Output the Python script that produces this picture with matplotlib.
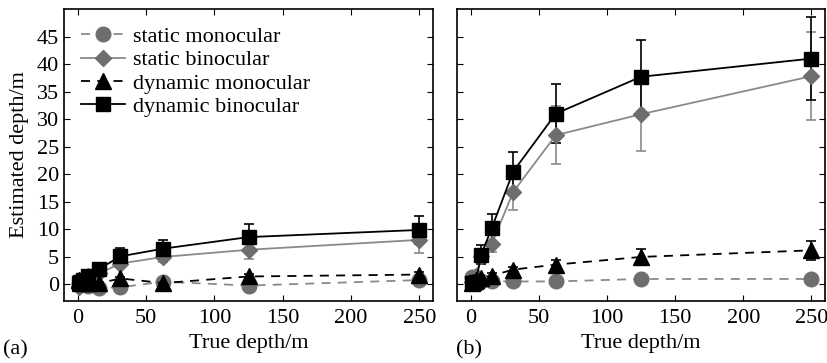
import numpy as np
import matplotlib.pyplot as plt

plt.rcParams['font.family'] = ['Liberation Serif', 'DejaVu Serif']
plt.rcParams['font.size'] = 16

true_depth = [0.98, 1.95, 3.9, 7.8, 15.6, 31.25, 62.5, 125, 250]

# panel (a)
a_static_mono = [0.1, -0.1, 0.0, -0.2, -0.6, -0.5, 0.5, -0.2, 0.8]
a_static_mono_err = [0.2, 0.2, 0.2, 0.3, 0.3, 0.3, 0.4, 0.4, 0.5]
a_static_bin = [-0.4, 0.2, 0.6, 1.6, 2.0, 3.8, 5.0, 6.3, 8.1]
a_static_bin_err = [0.3, 0.3, 0.4, 0.6, 0.6, 0.7, 0.9, 1.6, 2.4]
a_dyn_mono = [0.8, 0.3, 0.2, 0.3, 0.2, 1.1, 0.25, 1.45, 1.8]
a_dyn_mono_err = [0.2, 0.2, 0.2, 0.2, 0.3, 0.3, 0.3, 0.4, 0.5]
a_dyn_bin = [0.3, 0.5, 0.8, 1.6, 2.8, 5.1, 6.5, 8.6, 9.9]
a_dyn_bin_err = [0.3, 0.3, 0.4, 0.5, 0.7, 1.5, 1.6, 2.4, 2.5]

# panel (b)
b_static_mono = [1.3, 1.0, 0.8, 0.6, 0.6, 0.55, 0.55, 1.0, 1.0]
b_static_mono_err = [0.2, 0.2, 0.2, 0.2, 0.2, 0.2, 0.2, 0.3, 0.3]
b_static_bin = [0.5, 1.0, 1.5, 5.2, 7.4, 16.8, 27.1, 30.9, 37.8]
b_static_bin_err = [0.3, 0.4, 0.6, 1.0, 1.5, 3.2, 5.3, 6.7, 8.0]
b_dyn_mono = [0.3, 0.5, 0.8, 1.2, 1.6, 2.7, 3.6, 5.0, 6.2]
b_dyn_mono_err = [0.2, 0.2, 0.3, 0.3, 0.4, 0.5, 0.8, 1.5, 1.7]
b_dyn_bin = [0.2, 0.3, 0.5, 5.4, 10.3, 20.5, 31.0, 37.7, 41.0]
b_dyn_bin_err = [0.2, 0.3, 0.4, 1.7, 2.5, 3.5, 5.4, 6.7, 7.5]

labels = ['static monocular', 'static binocular', 'dynamic monocular', 'dynamic binocular']

gray = '#6e6e6e'
gray_line = '#8a8a8a'
styles = [
    dict(marker='o', ls='--', mfc=gray, mec=gray, color=gray_line, ms=10.5, dashes=(5, 4)),
    dict(marker='D', ls='-', mfc=gray, mec=gray, color=gray_line, ms=8.5),
    dict(marker='^', ls='--', mfc='black', mec='black', color='black', ms=11, dashes=(5, 4)),
    dict(marker='s', ls='-', mfc='black', mec='black', color='black', ms=9.5),
]

fig = plt.figure(figsize=(8.28, 3.63), dpi=100)
ax1 = fig.add_axes([0.0773, 0.1708, 0.4457, 0.8044])
ax2 = fig.add_axes([0.5519, 0.1708, 0.4445, 0.8044])

panels = [
    (ax1, [(a_static_mono, a_static_mono_err), (a_static_bin, a_static_bin_err),
           (a_dyn_mono, a_dyn_mono_err), (a_dyn_bin, a_dyn_bin_err)]),
    (ax2, [(b_static_mono, b_static_mono_err), (b_static_bin, b_static_bin_err),
           (b_dyn_mono, b_dyn_mono_err), (b_dyn_bin, b_dyn_bin_err)]),
]

for ax, series in panels:
    for (vals, errs), st, lab in zip(series, styles, labels):
        st = dict(st)
        dashes = st.pop('dashes', None)
        ecol = st['color']
        cont = ax.errorbar(true_depth, vals, yerr=errs, capsize=3.5, elinewidth=1.2,
                           capthick=1.2, ecolor=ecol, lw=1.3, label=lab, **st)
        if dashes:
            cont.lines[0].set_dashes(dashes)
    ax.set_xlim(-10, 260)
    ax.set_ylim(-3, 50)
    ax.set_xticks([0, 50, 100, 150, 200, 250])
    ax.set_yticks(range(0, 50, 5))
    ax.tick_params(direction='in', top=True, right=True, length=4, labelsize=16)
    ax.tick_params(axis='x', pad=6)
    ax.set_xlabel('True depth/m', fontsize=16, labelpad=4)
    for s in ax.spines.values():
        s.set_linewidth(1.2)

ax2.tick_params(labelleft=False)
ax1.set_ylabel('Estimated depth/m', fontsize=16, labelpad=6)

handles, labs = ax1.get_legend_handles_labels()
handles = [h[0] for h in handles]
ax1.legend(handles, labs, loc='upper left', frameon=False, fontsize=16,
           handlelength=2.0, handletextpad=0.35, labelspacing=0.12,
           borderaxespad=0.2, bbox_to_anchor=(0.01, 0.985))

fig.text(3 / 828, 1 - 350 / 363, '(a)', fontsize=16, va='center', ha='left')
fig.text(456 / 828, 1 - 350 / 363, '(b)', fontsize=16, va='center', ha='left')

fig.savefig('out.png', dpi=100)
